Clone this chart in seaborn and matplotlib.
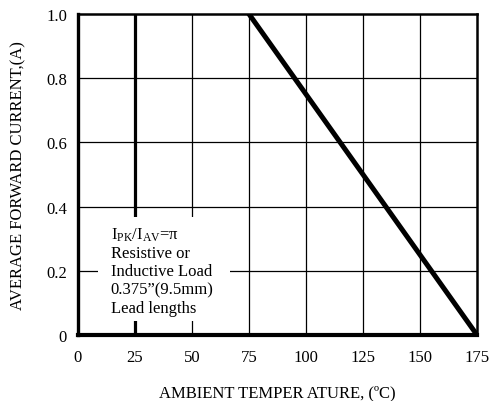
import matplotlib
matplotlib.use("Agg")
import matplotlib.pyplot as plt
import seaborn as sns
import pandas as pd
from matplotlib.patches import Rectangle

# derating curve values
temperature = [75, 175]
current = [1.0, 0.0]
x_ticks = [0, 25, 50, 75, 100, 125, 150, 175]
y_ticks = [0, 0.2, 0.4, 0.6, 0.8, 1.0]
y_ticklabels = ["0", "0.2", "0.4", "0.6", "0.8", "1.0"]
note_lines = [r"I$_{\mathrm{PK}}$/I$_{\mathrm{AV}}$=$\pi$", "Resistive or",
              "Inductive Load", "0.375\u201d(9.5mm)", "Lead lengths"]

df = pd.DataFrame({"Temperature": temperature, "Current": current})

sns.set_style("white")
plt.rcParams["font.family"] = ["Liberation Serif", "DejaVu Serif"]
plt.rcParams["mathtext.fontset"] = "custom"
plt.rcParams["mathtext.rm"] = "Liberation Serif"
plt.rcParams["mathtext.it"] = "Liberation Serif"
plt.rcParams["text.color"] = "black"
plt.rcParams["axes.labelcolor"] = "black"
plt.rcParams["xtick.color"] = "black"
plt.rcParams["ytick.color"] = "black"

fig = plt.figure(figsize=(4.92, 4.02), dpi=100)
ax = fig.add_axes([0.1585, 0.1642, 0.811, 0.7985])

# grid
for xv in x_ticks[1:-1]:
    ax.axvline(xv, color="black", lw=0.9 if xv != 25 else 2.3, zorder=1)
for yv in y_ticks[1:-1]:
    ax.axhline(yv, color="black", lw=0.9, zorder=1)

sns.lineplot(data=df, x="Temperature", y="Current", color="black", lw=3.6,
             ax=ax, zorder=3)

# note box covering the grid
ax.add_patch(Rectangle((8.8, 0.044), 57.9, 0.324, facecolor="white",
                       edgecolor="none", zorder=2))
ax.text(14.3, 0.342, "\n".join(note_lines), ha="left", va="top", fontsize=12,
        linespacing=1.2, zorder=4)

ax.set_xlim(0, 175)
ax.set_ylim(0, 1.0)
ax.set_xticks(x_ticks)
ax.set_yticks(y_ticks)
ax.set_yticklabels(y_ticklabels)
ax.tick_params(axis="both", length=0, labelsize=12)
ax.tick_params(axis="y", pad=8)
ax.tick_params(axis="x", pad=10)

for side, w in [("left", 2.4), ("bottom", 3.0), ("top", 1.8), ("right", 1.8)]:
    ax.spines[side].set_color("black")
    ax.spines[side].set_linewidth(w)
    ax.spines[side].set_zorder(5)

ax.set_xlabel("AMBIENT TEMPER ATURE, (\u00baC)", fontsize=12, labelpad=14)
ax.set_ylabel("AVERAGE FORWARD CURRENT,(A)", fontsize=12, labelpad=14)

fig.savefig("out.png", dpi=100)
